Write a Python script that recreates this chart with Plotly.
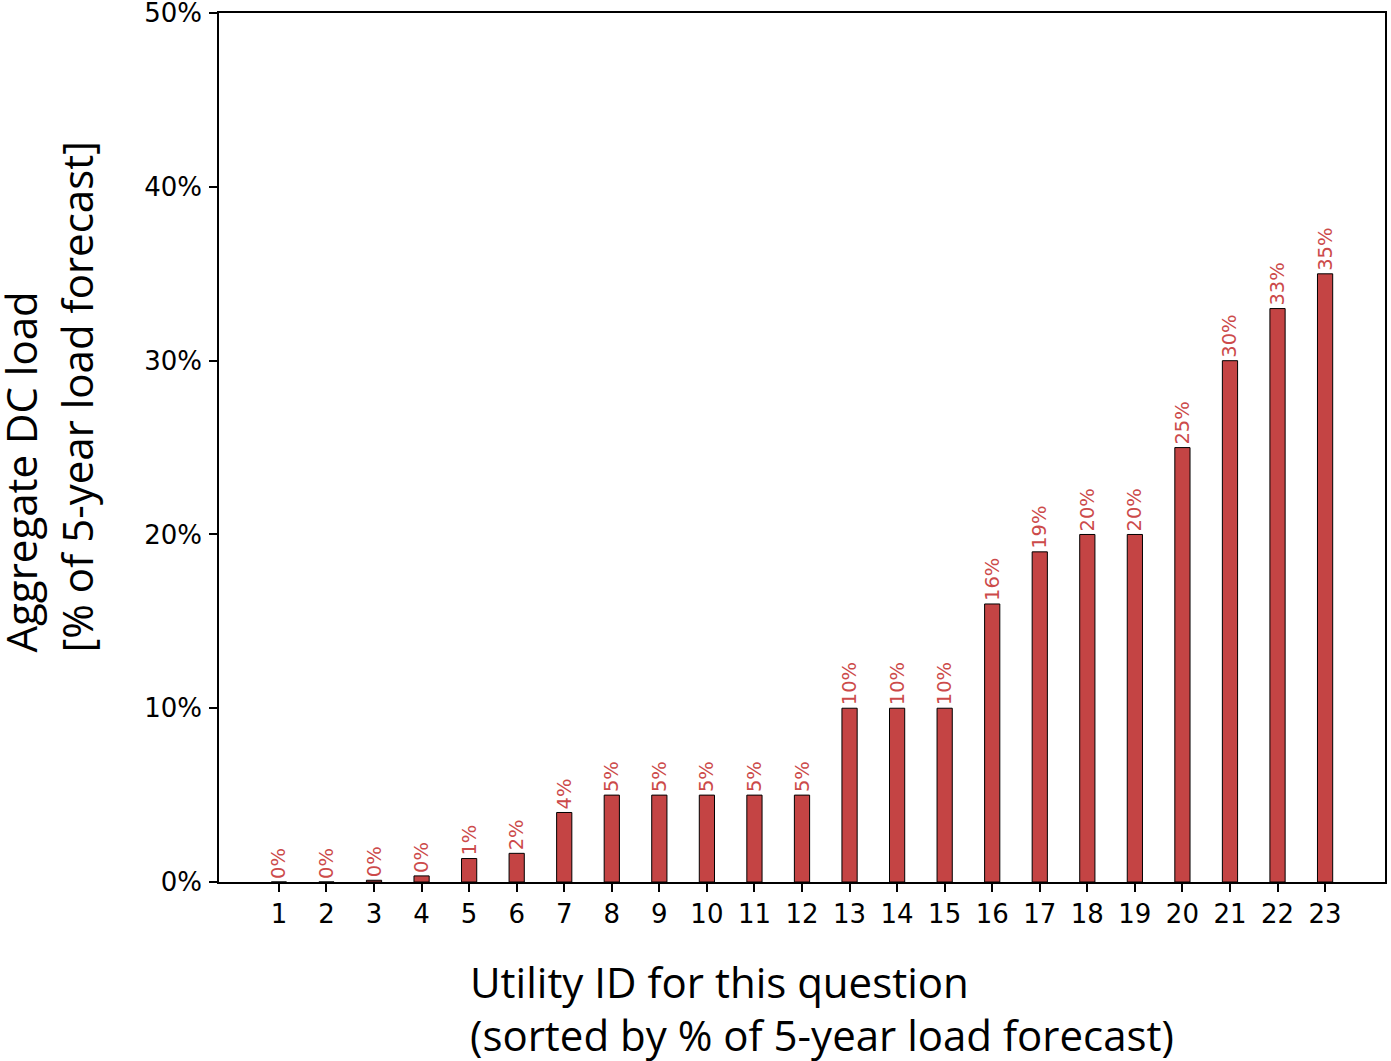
import plotly.graph_objects as go

utility_ids = list(range(1, 24))
dc_load_pct = [0, 0, 0.1, 0.35, 1.35, 1.65, 4, 5, 5, 5, 5, 5, 10, 10, 10, 16, 19, 20, 20, 25, 30, 33, 35]
y_ticks = [0, 10, 20, 30, 40, 50]

BAR_COLOR = "#C44444"
LABEL_COLOR = "#CC4A4A"
TICK_FONT = "DejaVu Sans"
TITLE_FONT = "Open Sans"

W, H = 1391, 1061
L, R, T, B = 219, 6, 13, 179
pw, ph = W - L - R, H - T - B


def px_x(px):
    return (px - L) / pw


def px_y(py):
    return (H - B - py) / ph


fig = go.Figure()
fig.add_trace(go.Bar(
    x=utility_ids,
    y=dc_load_pct,
    width=0.32,
    marker=dict(color=BAR_COLOR, line=dict(color="black", width=1)),
    texttemplate="%{y:.0f}%",
    textposition="outside",
    textangle=-90,
    constraintext="none",
    cliponaxis=False,
    textfont=dict(family=TICK_FONT, size=19.5, color=LABEL_COLOR),
    hoverinfo="x+y",
))

fig.update_layout(
    width=W, height=H,
    margin=dict(l=L, r=R, t=T, b=B, pad=0, autoexpand=False),
    plot_bgcolor="white",
    paper_bgcolor="white",
    showlegend=False,
    font=dict(family=TICK_FONT, size=26, color="black"),
)

fig.update_xaxes(
    range=[-0.26, 24.26],
    automargin=False,
    tickmode="array",
    tickvals=utility_ids,
    ticktext=[str(i) for i in utility_ids],
    ticks="outside", ticklen=8, tickwidth=1.5, tickcolor="black",
    showline=True, linecolor="black", linewidth=1.5, mirror=True,
    showgrid=False, zeroline=False,
    tickfont=dict(family=TICK_FONT, size=26, color="black"),
)
fig.update_yaxes(
    range=[0, 50.01],
    automargin=False,
    tickmode="array",
    tickvals=y_ticks,
    ticktext=[f"{v}%" for v in y_ticks],
    ticks="outside", ticklen=8, tickwidth=1.5, tickcolor="black",
    showline=True, linecolor="black", linewidth=1.5, mirror=True,
    showgrid=False, zeroline=False,
    ticklabeloverflow="allow",
    ticklabelstandoff=2,
    tickfont=dict(family=TICK_FONT, size=26, color="black"),
)

title_font = dict(family=TITLE_FONT, size=42, color="black")

# x-axis title (two left-aligned lines)
fig.add_annotation(text="Utility ID for this question", xref="paper", yref="paper",
                   x=px_x(468), y=px_y(981), xanchor="left", yanchor="middle",
                   showarrow=False, font=title_font)
fig.add_annotation(text="(sorted by % of 5-year load forecast)", xref="paper", yref="paper",
                   x=px_x(468), y=px_y(1034), xanchor="left", yanchor="middle",
                   showarrow=False, font=title_font)

# y-axis title (two rotated lines, start-aligned at bottom)
fig.add_annotation(text="Aggregate DC load", xref="paper", yref="paper",
                   x=px_x(20), y=px_y(655), xanchor="center", yanchor="bottom",
                   textangle=-90, showarrow=False, font=title_font)
fig.add_annotation(text="[% of 5-year load forecast]", xref="paper", yref="paper",
                   x=px_x(76), y=px_y(655), xanchor="center", yanchor="bottom",
                   textangle=-90, showarrow=False, font=title_font)

fig.write_html("out.html", config={"displayModeBar": False},
               post_script="document.body.style.margin='0';")
